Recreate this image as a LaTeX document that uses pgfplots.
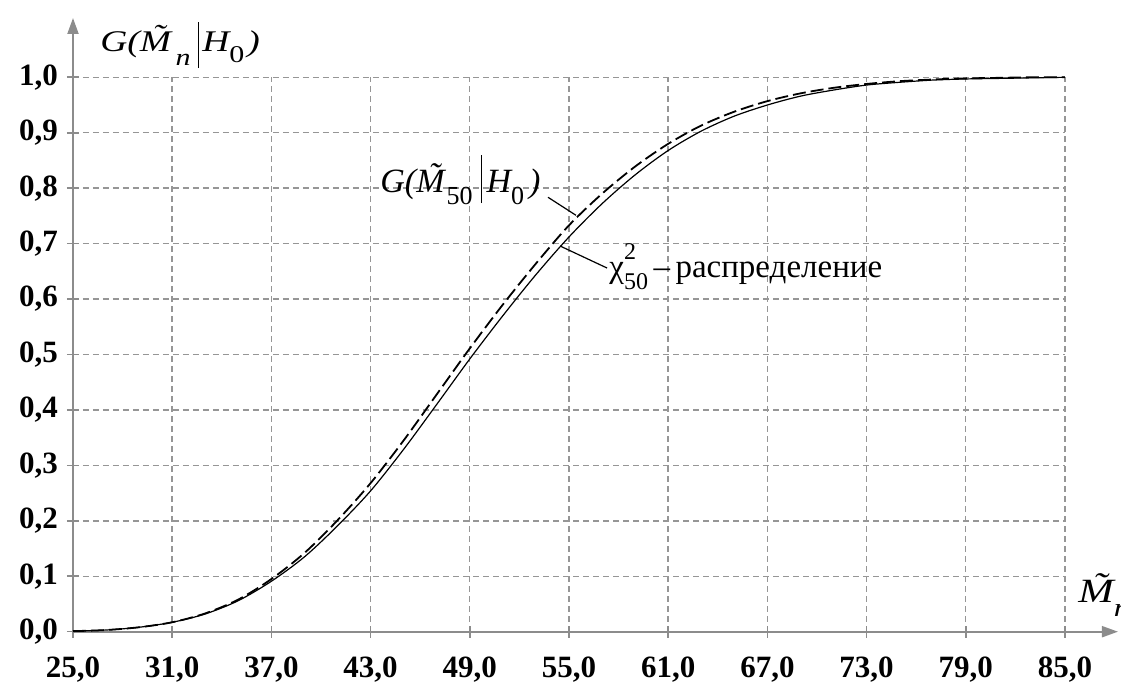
\documentclass[border=0pt]{standalone}
\usepackage{fontspec}
\setmainfont{Liberation Serif}
\newfontfamily\widefont[FakeStretch=1.25]{Liberation Serif}
\usepackage{pgfplots}
\usepackage{pgfplotstable}
\pgfplotsset{compat=1.18}
\usetikzlibrary{arrows.meta}

\definecolor{axisgray}{RGB}{140,140,140}
\definecolor{gridgray}{RGB}{150,150,150}

% M with a tilde over it
\newcommand{\tildeM}{\ooalign{M\cr\hidewidth\kern0.22em\raisebox{0.2em}{\char"02DC}\hidewidth\cr}}

% chi-square distribution function, 50 degrees of freedom
\pgfplotstableread{
x     F
25    0.001
27    0.003
29    0.008
31    0.017
33    0.032
35    0.056
37    0.091
39    0.135
41    0.191
43    0.254
45    0.329
47    0.410
49    0.492
51    0.570
53    0.644
55    0.712
57    0.772
59    0.824
61    0.868
63    0.903
65    0.930
67    0.950
69    0.966
71    0.977
73    0.986
75    0.991
77    0.995
79    0.997
81    0.998
83    0.999
85    1.000
}\chisq

% distribution of the statistic for n = 50 under H0
\pgfplotstableread{
x     G
25    0.001
27    0.003
29    0.008
31    0.017
33    0.033
35    0.058
37    0.095
39    0.142
41    0.201
43    0.268
45    0.345
47    0.428
49    0.511
51    0.590
53    0.664
55    0.733
57    0.790
59    0.839
61    0.880
63    0.913
65    0.938
67    0.957
69    0.971
71    0.981
73    0.988
75    0.993
77    0.996
79    0.998
81    0.999
83    1.000
85    1.000
}\gstat

\begin{document}
\begin{tikzpicture}
\useasboundingbox (-36.5pt,-26.65pt) rectangle (524pt,315.85pt);
\begin{axis}[
  at={(0,0)}, anchor=south west,
  scale only axis, width=496pt, height=277.2pt,
  xmin=25, xmax=85, ymin=0, ymax=1,
  axis lines=left,
  axis line style={draw=axisgray, line width=1pt},
  x axis line style={-{Triangle[length=8pt,width=5.5pt]}, shorten >=-26.5pt},
  y axis line style={-{Triangle[length=8pt,width=5.5pt]}, shorten >=-29.65pt},
  tick align=center, major tick length=6pt,
  every tick/.style={draw=axisgray, line width=0.8pt},
  xtick={25,31,37,43,49,55,61,67,73,79,85},
  xticklabels={{25,0},{31,0},{37,0},{43,0},{49,0},{55,0},{61,0},{67,0},{73,0},{79,0},{85,0}},
  ytick={0,0.1,0.2,0.3,0.4,0.5,0.6,0.7,0.8,0.9,1.0},
  yticklabels={{0,0},{0,1},{0,2},{0,3},{0,4},{0,5},{0,6},{0,7},{0,8},{0,9},{1,0}},
  ticklabel style={font=\fontsize{15.5}{18}\selectfont\bfseries},
  xticklabel style={yshift=-6pt},
  yticklabel style={xshift=-1pt},
  grid=major,
  major grid style={draw=gridgray, line width=0.7pt, dash pattern=on 3pt off 2pt},
  clip=false,
]
\addplot[black, line width=0.6pt, smooth] table[x=x, y=F] {\chisq};
\addplot[black, line width=0.9pt, smooth, dash pattern=on 6.5pt off 2.5pt] table[x=x, y=G] {\gstat};

% leader lines to the curves
\draw[black, line width=0.6pt] (axis cs:53.73,0.7836) -- (axis cs:55.42,0.7511);
\draw[black, line width=0.6pt] (axis cs:54.46,0.6957) -- (axis cs:57.30,0.6560);

% curve labels
\node[anchor=base west, inner sep=0pt] at (axis cs:43.57,0.7913)
  {\fontsize{17}{20}\selectfont\itshape G(\tildeM\raisebox{-0.35em}{\fontsize{13}{15}\selectfont\upshape\kern0.08em 50}\kern0.25em\rule[-0.3em]{0.65pt}{1.41em}\kern0.12em H\raisebox{-0.35em}{\fontsize{13}{15}\selectfont\upshape 0}\kern0.15em)};
\node[anchor=base west, inner sep=0pt] at (axis cs:57.42,0.638)
  {\fontsize{16.5}{19}\selectfont χ\rlap{\raisebox{0.55em}{\fontsize{12}{14}\selectfont 2}}\raisebox{-0.35em}{\fontsize{12}{14}\selectfont 50}\,–\,распределение};

% axis titles
\node[anchor=west, inner sep=0pt] at (axis cs:26.63,1.0583)
  {\fontsize{15}{17}\widefont\itshape G(\tildeM\kern0.15em\raisebox{-0.45em}{\fontsize{12}{14}\selectfont n}\kern0.25em\rule[-0.55em]{0.6pt}{1.55em}\kern0.1em H\raisebox{-0.35em}{\fontsize{12}{14}\selectfont\upshape 0}\kern0.1em)};
\node[anchor=base west, inner sep=0pt] at (axis cs:85.79,0.0518)
  {\fontsize{17}{20}\widefont\itshape \tildeM\raisebox{-0.4em}{\fontsize{13}{15}\selectfont n}};
\end{axis}
\end{tikzpicture}
\end{document}
